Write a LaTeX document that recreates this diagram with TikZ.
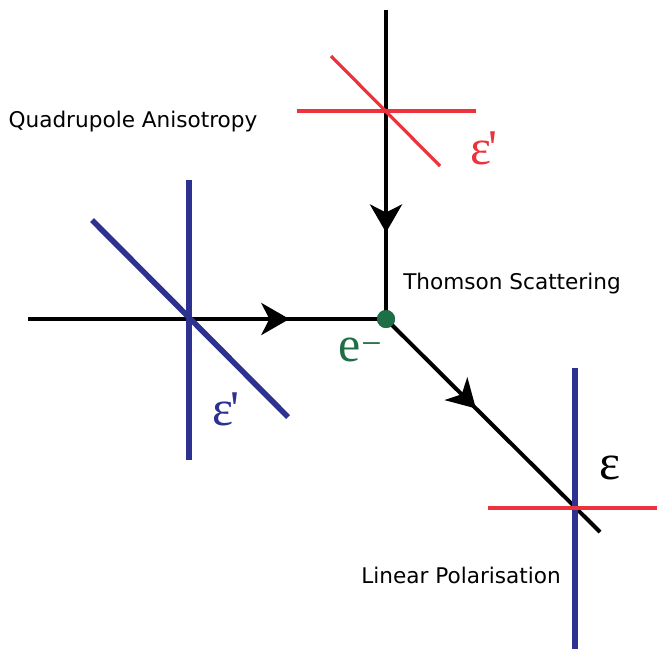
\documentclass[tikz,border=0pt]{standalone}
\usepackage{amsmath}
\usepackage{fontspec}
\setmainfont{DejaVu Sans}
\newfontfamily\greekserif{Liberation Serif}
\usetikzlibrary{arrows.meta,decorations.markings}

\definecolor{polblue}{RGB}{45,50,145}
\definecolor{polred}{RGB}{236,50,60}
\definecolor{elgreen}{RGB}{30,110,70}

\begin{document}
\begin{tikzpicture}[x=0.5pt, y=-0.5pt,
    beam/.style={line width=2pt, postaction={decorate},
      decoration={markings, mark=at position #1 with {\arrow{Stealth[length=14pt,width=16pt,inset=4pt]}}}},
    bluepol/.style={polblue, line width=2.8pt},
    redpol/.style={polred, line width=1.6pt},
    eps/.style={font=\greekserif\fontsize{25}{27}\selectfont},
    caption/.style={font=\fontsize{10.8}{13}\selectfont}]
    \useasboundingbox (0,0) rectangle (657,649);

    % 电子与光子路径
    \node[circle, fill=elgreen, inner sep=0pt, minimum size=9pt] (e) at (386,319) {};
    \coordinate (in) at (28,319);
    \coordinate (top) at (386,10);
    \coordinate (out) at (600,532);
    \draw[beam=0.73] (in) -- (e.center);
    \draw[beam=0.72] (top) -- (e.center);
    \draw[beam=0.42] (e.center) -- (out);
    \node[circle, fill=elgreen, inner sep=0pt, minimum size=9pt] at (e) {};

    % 左侧偏振 (蓝)
    \draw[bluepol] (189,180) -- (189,460);
    \draw[bluepol] (92,220) -- (288,417);

    % 上方偏振 (红)
    \draw[redpol] (297,111) -- (476,111);
    \draw[redpol] (331,56) -- (440,166);

    % 右下偏振
    \draw[bluepol] (575,368) -- (575,649);
    \draw[redpol] (488,508) -- (657,508);

    % 标注
    \node[eps, polred] (epsr) at (484,148) {ε\kern-1.5pt'};
    \node[eps, polblue] (epsb) at (226,409) {ε\kern-1.5pt'};
    \node[eps] (epsk) at (610,468) {ε};
    \node[eps, elgreen] (elab) at (360,350) {e\kern0.5pt\raisebox{3pt}{\fontsize{18}{18}\selectfont −}};
    \node[caption] (quad) at (133,122) {Quadrupole Anisotropy};
    \node[caption] (thom) at (512,284) {Thomson Scattering};
    \node[caption] (lin) at (461,575) {Linear Polarisation};
\end{tikzpicture}
\end{document}
